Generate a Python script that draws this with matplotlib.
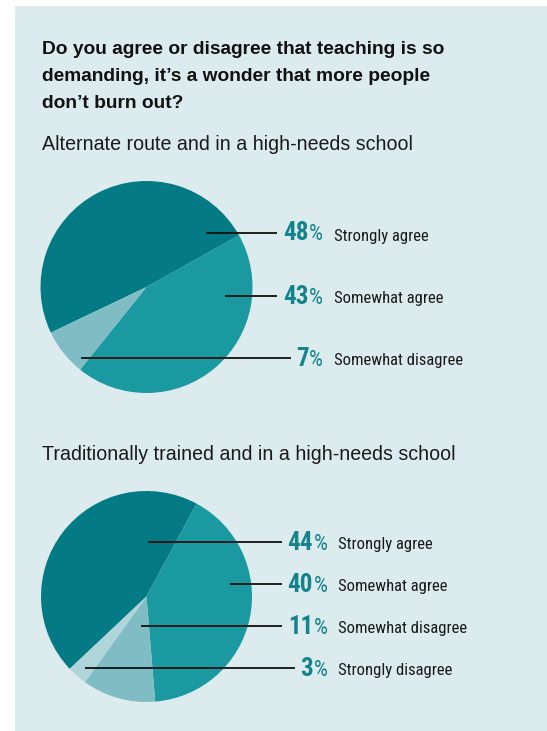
import matplotlib
matplotlib.use("Agg")
import matplotlib.pyplot as plt
from matplotlib.patches import Rectangle
from matplotlib import font_manager

# Survey data
title_lines = [
    "Do you agree or disagree that teaching is so",
    "demanding, it\u2019s a wonder that more people",
    "don\u2019t burn out?",
]

group1_title = "Alternate route and in a high-needs school"
group1_labels = ["Strongly agree", "Somewhat agree", "Somewhat disagree"]
group1_values = [48, 43, 7]

group2_title = "Traditionally trained and in a high-needs school"
group2_labels = ["Strongly agree", "Somewhat agree", "Somewhat disagree", "Strongly disagree"]
group2_values = [44, 40, 11, 3]

# Styling
BG = "#dcebee"
SLICE_COLORS = {
    "Strongly agree": "#047a84",
    "Somewhat agree": "#1a99a1",
    "Somewhat disagree": "#7fbcc4",
    "Strongly disagree": "#afd4da",
}
PCT_COLOR = "#14838c"

available = {f.name for f in font_manager.fontManager.ttflist}
MAIN_FONT = ["Liberation Sans", "DejaVu Sans"]
if "Liberation Sans Narrow" in available:
    NARROW_FONT = ["Liberation Sans Narrow", "DejaVu Sans"]
elif "Roboto Condensed" in available:
    NARROW_FONT = ["Roboto Condensed", "DejaVu Sans"]
else:
    NARROW_FONT = ["DejaVu Sans"]
NARROW_STRETCH = "normal" if NARROW_FONT[0] != "DejaVu Sans" else "condensed"

W, H = 547, 731
fig = plt.figure(figsize=(W / 100, H / 100), dpi=100)
ax = fig.add_axes([0, 0, 1, 1])


def Y(y):
    """Convert a top-down pixel row to axis coordinates."""
    return H - y


ax.add_patch(Rectangle((15, -2), W - 15 + 2, Y(6) + 2, facecolor=BG, edgecolor="none", zorder=0))

for line, base in zip(title_lines, [54, 81, 108]):
    ax.text(42, Y(base), line, fontsize=13.8, fontweight="bold", family=MAIN_FONT,
            va="baseline", ha="left", color="#111111")


def draw_group(values, labels, subtitle, subtitle_base, center, radius, start,
               leader_rows, leader_starts, leader_ends, pct_split, label_left):
    ax.text(42, Y(subtitle_base), subtitle, fontsize=14.1, family=MAIN_FONT,
            va="baseline", ha="left", color="#1a1a1a")
    ax.pie(values, colors=[SLICE_COLORS[l] for l in labels],
           center=(center[0], Y(center[1])), radius=radius,
           startangle=start, counterclock=False,
           wedgeprops=dict(linewidth=0), frame=True)
    for val, lab, row, x0, x1 in zip(values, labels, leader_rows, leader_starts, leader_ends):
        ax.plot([x0, x1], [Y(row), Y(row)], color="#111111", lw=1.3,
                solid_capstyle="butt", zorder=5)
        base = Y(row) - 7.5
        ax.text(pct_split, base, f"{val}", fontsize=18, fontweight="bold",
                family=NARROW_FONT, fontstretch=NARROW_STRETCH, color=PCT_COLOR,
                ha="right", va="baseline", zorder=6)
        ax.text(pct_split + 0.5, base, "%", fontsize=16, family=NARROW_FONT,
                fontstretch=NARROW_STRETCH, color=PCT_COLOR, ha="left",
                va="baseline", zorder=6)
        ax.text(label_left, base, lab, fontsize=12, family=NARROW_FONT,
                fontstretch=NARROW_STRETCH, color="#1a1a1a", ha="left",
                va="baseline", zorder=6)


draw_group(group1_values, group1_labels, group1_title, 149.5, (146.5, 287), 106, 205.5,
           [233, 296, 358], [206, 225, 81], [277, 277, 291], 308.5, 334)
draw_group(group2_values, group2_labels, group2_title, 459.5, (146.5, 596.5), 105.5, 223.3,
           [542, 584, 626, 668], [148, 230, 141, 85], [282, 282, 282, 295], 313, 338)

ax.set_xlim(0, W)
ax.set_ylim(0, H)
ax.set_aspect("equal")
ax.axis("off")

fig.savefig("out.png", dpi=100, facecolor="white")
